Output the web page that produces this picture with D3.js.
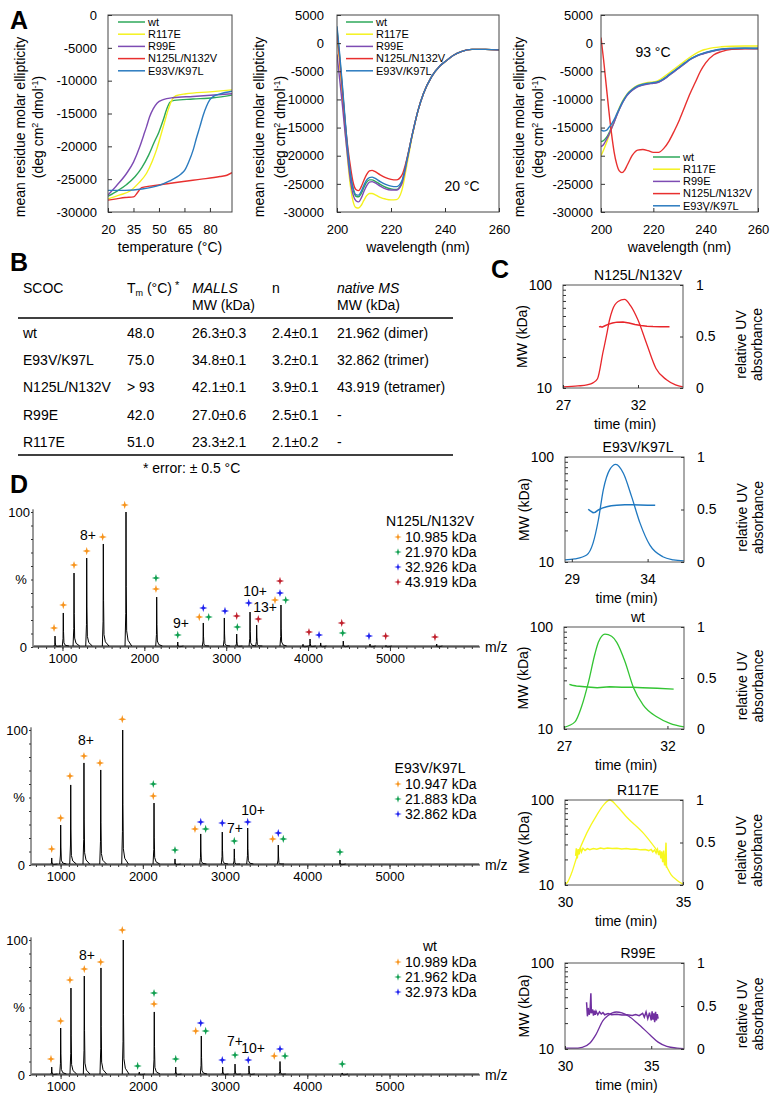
<!DOCTYPE html>
<html><head><meta charset="utf-8">
<script src="https://cdn.jsdelivr.net/npm/d3@7"></script>
<style>
body{margin:0;background:#fff;}
svg{display:block;font-family:"Liberation Sans",Arial,Helvetica,sans-serif;}
</style></head><body>
<svg id="fig" width="777" height="1103"></svg>
<script>
// ---------------- DATA ----------------
// Panel A
const variantNames = ["wt","R117E","R99E","N125L/N132V","E93V/K97L"];
const variantColors = ["#2ea85a","#f4f21e","#7d4bb3","#e8302f","#2b7bbf"];

const meltWt = [[20,-27600],[26,-26700],[31,-25800],[36,-24600],[40,-23200],[44,-21300],[47,-19500],[50,-17800],[52.5,-16000],[54.5,-14400],[56.5,-13300],[59,-13000],[70,-12800],[82,-12600],[93,-12200]];
const meltR117E = [[20,-28000],[27,-27400],[33,-26800],[38,-25600],[42.7,-24100],[46,-22300],[48.6,-20500],[51,-18400],[53,-16600],[55.4,-14450],[57.5,-13000],[60,-12300],[66,-12000],[80,-11700],[93,-11400]];
const meltR99E = [[20,-27400],[25,-26000],[31,-24100],[35,-22400],[38.8,-20000],[41,-18300],[42.7,-17000],[44.5,-15500],[46.6,-14300],[49,-13400],[52.5,-12900],[58,-12600],[70,-12400],[93,-12000]];
const meltN125L = [[20,-28200],[25,-28000],[30,-27800],[35,-27700],[37.5,-27000],[39.8,-26300],[46.6,-26000],[55,-25700],[64.3,-25350],[75,-25000],[85.9,-24600],[90,-24400],[93,-24000]];
const meltE93V = [[20,-26700],[30,-26700],[40,-26500],[50.6,-25900],[56,-25300],[60.4,-24700],[63,-24200],[65.3,-23600],[67.5,-22400],[70.2,-20500],[72,-18800],[74.1,-17000],[76,-15300],[78,-13900],[80,-12900],[82,-12400],[86,-12000],[93,-11600]];

const lambda20 = [200,201,202,203,204,205,206,207,208,209,210,211,212,213,214,216,218,220,222,224,226,228,230,232,235,238,240,243,246,250,255,260];
const cd20Wt    = [2500,-2500,-8000,-14000,-19500,-23500,-26000,-27200,-27300,-26700,-25600,-24700,-24300,-24300,-24500,-25100,-25600,-25900,-26000,-24800,-20500,-16000,-12000,-9000,-6000,-4100,-3300,-2200,-1500,-1100,-1100,-1200];
const cd20R117E = [1500,-3500,-9500,-15500,-21000,-25500,-28200,-29200,-29300,-28800,-27900,-27100,-26700,-26700,-26900,-27400,-27700,-27850,-27800,-26200,-21300,-16200,-12000,-9000,-6000,-4100,-3300,-2200,-1500,-1100,-1100,-1200];
const cd20R99E  = [-2000,-6500,-11000,-16000,-20500,-24500,-27000,-28000,-28200,-27500,-26300,-25300,-24700,-24600,-24800,-25400,-25900,-26100,-26100,-25000,-20700,-16000,-12000,-9000,-6000,-4100,-3300,-2200,-1500,-1100,-1100,-1200];
const cd20N125L = [2000,-3000,-8500,-14000,-18500,-22000,-24800,-26000,-26200,-25500,-24300,-23300,-22700,-22600,-22800,-23400,-23900,-24200,-24300,-23500,-20300,-16000,-12000,-9000,-6000,-4100,-3300,-2200,-1500,-1100,-1100,-1200];
const cd20E93V  = [3000,-2000,-7500,-13500,-19000,-23200,-25800,-26900,-27000,-26300,-25200,-24300,-23900,-23800,-24000,-24600,-25100,-25400,-25500,-24500,-20500,-16000,-12000,-9000,-6000,-4100,-3300,-2200,-1500,-1100,-1100,-1200];

const lambda93 = [200,201,202,203,204,205,206,207,208,209,210,212,214,216,218,220,222,224,226,228,230,232,234,236,238,240,243,246,250,255,260];
const cd93Wt    = [-17500,-17300,-16800,-16000,-15000,-14000,-12800,-11700,-10700,-9900,-9200,-8300,-7700,-7400,-7200,-7100,-6900,-6400,-5700,-5000,-4300,-3600,-2900,-2400,-2000,-1700,-1350,-1100,-950,-900,-900];
const cd93R117E = [-20000,-19000,-17800,-16500,-15200,-14000,-12700,-11500,-10500,-9700,-9000,-8100,-7500,-7200,-7000,-6900,-6600,-6000,-5300,-4600,-3900,-3200,-2500,-1900,-1400,-1100,-800,-650,-550,-500,-500];
const cd93R99E  = [-18400,-18000,-17200,-16300,-15200,-14100,-12900,-11800,-10800,-9950,-9250,-8350,-7750,-7450,-7250,-7150,-6950,-6450,-5750,-5050,-4350,-3650,-2950,-2450,-2050,-1750,-1400,-1150,-1000,-950,-950];
const cd93N125L = [1000,-3000,-7500,-12000,-16000,-19300,-21500,-22700,-23000,-22600,-21700,-19900,-19000,-18900,-19100,-19400,-19400,-18700,-17400,-15600,-13600,-11300,-9000,-7000,-5000,-3500,-2100,-1500,-1100,-1000,-1000];
const cd93E93V  = [-15400,-15600,-15500,-15000,-14400,-13600,-12600,-11600,-10600,-9800,-9100,-8200,-7600,-7300,-7100,-7000,-6800,-6300,-5600,-4900,-4200,-3500,-2850,-2350,-1950,-1650,-1300,-1050,-950,-900,-950];

const meltTicks = [20,35,50,65,80];
const lambdaTicks = [200,220,240,260];
const ellipTicksA = [-30000,-25000,-20000,-15000,-10000,-5000,0];
const ellipTicksB = [-30000,-25000,-20000,-15000,-10000,-5000,0,5000];

// Panel B
const tableRows = [
  ["wt","48.0","26.3\u00b10.3","2.4\u00b10.1","21.962 (dimer)"],
  ["E93V/K97L","75.0","34.8\u00b10.1","3.2\u00b10.1","32.862 (trimer)"],
  ["N125L/N132V","> 93","42.1\u00b10.1","3.9\u00b10.1","43.919 (tetramer)"],
  ["R99E","42.0","27.0\u00b10.6","2.5\u00b10.1","-"],
  ["R117E","51.0","23.3\u00b12.1","2.1\u00b10.2","-"]
];

// Panel C (time min, relative UV) and (time min, MW kDa)
const uvN125L = [[27,0.01],[28,0.02],[28.6,0.03],[29,0.05],[29.3,0.09],[29.67,0.35],[29.9,0.51],[30.1,0.66],[30.3,0.76],[30.67,0.84],[31.1,0.86],[31.5,0.8],[32.0,0.66],[32.6,0.42],[33.2,0.19],[33.9,0.08],[34.5,0.03],[35,0.01]];
const mwN125L = [[29.4,39.2],[29.5,39.6],[29.6,39.0],[29.8,40.2],[30,41.5],[30.3,42.8],[30.6,43.6],[31,43.8],[31.4,42.8],[31.8,41.4],[32.2,40.4],[32.6,39.8],[33,39.5],[33.5,39.3],[34.1,39.4]];
const uvE93V = [[28.55,0.02],[29.2,0.03],[29.98,0.067],[30.4,0.18],[30.75,0.40],[31.08,0.69],[31.5,0.88],[31.9,0.93],[32.4,0.845],[32.95,0.62],[33.5,0.37],[34.15,0.16],[35.0,0.05],[35.7,0.02],[36.4,0.01]];
const mwE93V = [[30.08,31.8],[30.2,30.8],[30.4,29.5],[30.55,29.8],[30.75,31.3],[31.0,32.6],[31.3,33.6],[31.6,34.3],[31.96,34.8],[32.5,35.0],[33,35],[33.5,34.9],[34,34.8],[34.5,34.7]];
const uvWt = [[27,0.016],[27.53,0.07],[27.85,0.22],[28.17,0.45],[28.5,0.74],[28.66,0.85],[28.98,0.93],[29.3,0.91],[29.55,0.85],[29.95,0.66],[30.35,0.41],[30.83,0.235],[31.48,0.12],[32.12,0.056],[32.8,0.02]];
const mwWt = [[27.26,27.4],[27.4,26.8],[27.6,26.4],[28,26],[28.6,25.4],[29.2,26],[29.8,25.7],[30.3,25.6],[30.8,25.4],[31.5,25.1],[32.3,24.6]];
const uvR117E = [[30,0.01],[30.07,0.02],[30.28,0.14],[30.5,0.33],[30.92,0.61],[31.34,0.82],[31.63,0.94],[31.9,1.0],[32.2,0.93],[32.61,0.8],[33.32,0.61],[33.89,0.41],[34.1,0.33],[34.3,0.22],[34.5,0.12],[34.73,0.06],[35,0.01]];
const mwR117E = [[30.45,22],[30.48,27],[30.52,20.5],[30.56,26.5],[30.6,23],[30.65,27.5],[30.7,24.5],[30.76,27],[30.85,25.5],[30.95,26.8],[31.05,26],[31.2,26.8],[31.35,26.4],[31.5,27.2],[31.65,26.7],[31.8,27.2],[32.0,26.9],[32.2,27.1],[32.4,26.6],[32.6,26.8],[32.8,26.3],[33.0,26.5],[33.2,25.9],[33.4,26.1],[33.55,25.4],[33.65,26.2],[33.72,24.6],[33.8,25.8],[33.86,23.8],[33.92,26.3],[33.97,22.5],[34.02,25.5],[34.06,20.5],[34.1,24.8],[34.14,18.5],[34.18,25.5],[34.22,17],[34.26,23.5],[34.28,31.5],[34.3,16]];
const uvR99E = [[30,0.01],[30.5,0.01],[31,0.02],[31.45,0.07],[31.8,0.17],[32.2,0.33],[32.5,0.39],[32.97,0.43],[33.3,0.42],[33.7,0.38],[34.2,0.30],[34.95,0.16],[35.4,0.08],[35.9,0.03],[36.5,0.01],[36.9,0.005]];
const mwR99E = [[31.25,35],[31.3,24],[31.35,30],[31.4,25],[31.45,27],[31.5,44.5],[31.53,26],[31.6,29],[31.65,24.5],[31.7,28],[31.75,25],[31.8,27.5],[31.9,25],[32.0,27],[32.1,25.5],[32.2,26.5],[32.3,25],[32.5,25.8],[32.7,25],[33.0,25.3],[33.3,24.8],[33.6,25],[33.9,24.6],[34.1,25.2],[34.3,24.4],[34.5,26],[34.6,23.5],[34.7,27],[34.8,22.5],[34.9,26.5],[35.0,21.5],[35.05,27.5],[35.1,22],[35.15,26],[35.2,20.5],[35.25,27],[35.3,21.5],[35.35,25.5],[35.4,22.5]];

// Panel D (m/z, % intensity); markers [m/z, %, oligomer index]
const oligoColors = ["#f7941d","#109f50","#1f22ee","#c0202d"];
const peaksN125L = [[909,8.1],[1010,25.2],[1141,54.8],[1296,65.9],[1499,76.3],[1776,100],[2151,37],[2408,3.7],[2720,17.8],[2977,21.5],[3128,9.6],[3291,25.9],[3372,16.3],[3669,31.1],[3938,2],[4024,5.9],[4154,3],[4430,4.4],[4756,2.2],[4952,1.1],[5571,2.2]];
const markersN125L = [[897,14.1,0],[1010,31.1,0],[1141,60.7,0],[1296,71.1,0],[1491,81.5,0],[1760,105.2,0],[2142,43,0],[2142,51.1,1],[2408,8.9,1],[2671,22.2,0],[2720,28.9,2],[2786,22.2,1],[2985,26.7,2],[3136,14.8,1],[3128,23,3],[3275,32.6,2],[3392,20.7,3],[3596,34.8,0],[3657,40,2],[3657,48.9,3],[3727,34.8,1],[4011,11.1,3],[4134,8.9,2],[4423,10.4,1],[4411,17.8,3],[4744,8.1,2],[4948,8.1,3],[5550,7.4,3]];
const labelsN125L = [[1312,83,"8+"],[2448,17.8,"9+"],[3352,41.5,"10+"],[3474,29.6,"13+"]];
const massesN125L = ["10.985 kDa","21.970 kDa","32.926 kDa","43.919 kDa"];

const peaksE93V = [[892,5.2],[1001,29.6],[1123,59.3],[1284,75.6],[1488,70.4],[1755,100],[2136,45.9],[2391,4.5],[2704,23],[2966,24.4],[3112,11.9],[3275,27.4],[3647,14.8],[4397,3.7]];
const markersE93V = [[892,11.9,0],[1001,34.8,0],[1114,65.9,0],[1284,80.7,0],[1479,75.6,0],[1750,108,0],[2127,51.1,0],[2127,60,1],[2391,11.1,1],[2634,26.7,0],[2704,31.9,2],[2764,26.7,1],[2966,31.1,2],[3112,17.8,1],[3275,31.9,2],[3579,19.3,0],[3647,23.7,2],[3708,19.3,1],[4397,9.6,1]];
const labelsE93V = [[1309,92.6,"8+"],[3121,27.4,"7+"],[3340,40.7,"10+"]];
const massesE93V = ["10.947 kDa","21.883 kDa","32.862 kDa"];

const peaksWt = [[892,5.9],[1001,34.8],[1126,64.4],[1288,73.3],[1491,79.3],[1762,100],[1957,2.2],[2139,46.7],[2400,5.9],[2711,28.9],[2971,5.9],[3121,8.1],[3291,6.7],[3668,10],[4425,1.5]];
const markersWt = [[883,11.9,0],[1001,40,0],[1114,70.4,0],[1288,78.5,0],[1488,83.7,0],[1750,107.4,0],[2136,52.6,0],[2136,60.7,1],[1937,6.7,1],[2400,11.9,1],[2643,32.6,0],[2704,38.5,2],[2764,32.6,1],[2966,11.1,2],[3121,14.8,1],[3282,11.1,2],[3598,14.1,0],[3668,19.3,2],[3729,14.1,1],[4425,8.1,1]];
const labelsWt = [[1321,88.9,"8+"],[3121,25.4,"7+"],[3340,19.8,"10+"]];
const massesWt = ["10.989 kDa","21.962 kDa","32.973 kDa"];
const mzTicks = [1000,2000,3000,4000,5000];

// ---------------- DRAW ----------------
const FONT = '"Liberation Sans", Arial, Helvetica, sans-serif';
const svg = d3.select("#fig");
svg.append("rect").attr("width",777).attr("height",1103).attr("fill","#fff");

function styleAxis(g, size){
  g.attr("font-family", FONT).attr("font-size", size);
  g.select(".domain").remove();
  g.selectAll(".tick line").attr("stroke","#333");
  g.selectAll(".tick text").attr("fill","#000");
}

// panel letters
[["A",10,29],["B",10,271],["C",491,278],["D",10,493]].forEach(([t,x,y])=>{
  svg.append("text").attr("x",x).attr("y",y).attr("font-size",25).attr("font-weight","bold").text(t);
});

// ---- Panel A ----
function ylabelA(x1, x2, cy){
  svg.append("text").attr("transform",`translate(${x1},${cy}) rotate(-90)`).attr("text-anchor","middle").attr("font-size",14).text("mean residue molar ellipticity");
  const t = svg.append("text").attr("transform",`translate(${x2},${cy}) rotate(-90)`).attr("text-anchor","middle").attr("font-size",14);
  t.append("tspan").text("(deg cm");
  t.append("tspan").attr("font-size",9).attr("dy",-5).text("2");
  t.append("tspan").attr("dy",5).text(" dmol");
  t.append("tspan").attr("font-size",9).attr("dy",-5).text("-1");
  t.append("tspan").attr("dy",5).text(")");
}

function cdChart(cfg){
  const x = d3.scaleLinear().domain(cfg.xDomain).range([cfg.left,cfg.right]);
  const y = d3.scaleLinear().domain(cfg.yDomain).range([cfg.bottom,cfg.top]);
  const g = svg.append("g");
  g.append("defs").append("clipPath").attr("id",cfg.id).append("rect")
    .attr("x",cfg.left).attr("y",cfg.top).attr("width",cfg.right-cfg.left).attr("height",cfg.bottom-cfg.top);
  const line = d3.line().x(d=>x(d[0])).y(d=>y(d[1])).curve(d3.curveMonotoneX);
  const lg = g.append("g").attr("clip-path",`url(#${cfg.id})`);
  cfg.series.forEach((s,i)=>{
    lg.append("path").attr("d",line(s)).attr("fill","none").attr("stroke",variantColors[i]).attr("stroke-width",1.4);
  });
  g.append("rect").attr("x",cfg.left).attr("y",cfg.top).attr("width",cfg.right-cfg.left).attr("height",cfg.bottom-cfg.top)
    .attr("fill","none").attr("stroke","#444").attr("stroke-width",1);
  const ya = g.append("g").attr("transform",`translate(${cfg.left},0)`)
    .call(d3.axisLeft(y).tickValues(cfg.yTicks).tickSize(-4).tickPadding(cfg.yPad).tickFormat(d=>String(d)));
  styleAxis(ya,13);
  const xa = g.append("g").attr("transform",`translate(0,${cfg.bottom})`)
    .call(d3.axisBottom(x).tickValues(cfg.xTicks).tickSize(-4).tickPadding(13).tickFormat(d=>String(d)));
  styleAxis(xa,13);
  g.append("text").attr("x",(cfg.left+cfg.right)/2).attr("y",252).attr("text-anchor","middle").attr("font-size",14).text(cfg.xLabel);
  ylabelA(cfg.yLab[0], cfg.yLab[1], 127);
  // legend
  variantNames.forEach((n,i)=>{
    const ly = cfg.legend.y0 + i*12.2;
    g.append("line").attr("x1",cfg.legend.x).attr("x2",cfg.legend.x+27).attr("y1",ly).attr("y2",ly)
      .attr("stroke",variantColors[i]).attr("stroke-width",1.5);
    g.append("text").attr("x",cfg.legend.x+30).attr("y",ly).attr("dy","0.35em").attr("font-size",11).text(n);
  });
  if (cfg.note) g.append("text").attr("x",cfg.note[0]).attr("y",cfg.note[1]).attr("text-anchor","middle").attr("font-size",14).text(cfg.note[2]);
}

cdChart({id:"cA1",left:108,right:232,top:15,bottom:212,xDomain:[20,93],yDomain:[-30000,0],xTicks:meltTicks,yTicks:ellipTicksA,yPad:11,
  xLabel:"temperature (\u00b0C)",yLab:[25,43],series:[meltWt,meltR117E,meltR99E,meltN125L,meltE93V],
  legend:{x:118,y0:22}});
const zip = (xs,ys)=>xs.map((v,i)=>[v,ys[i]]);
cdChart({id:"cA2",left:337,right:499,top:15,bottom:212,xDomain:[200,260],yDomain:[-30000,5000],xTicks:lambdaTicks,yTicks:ellipTicksB,yPad:13,
  xLabel:"wavelength (nm)",yLab:[264,285],
  series:[zip(lambda20,cd20Wt),zip(lambda20,cd20R117E),zip(lambda20,cd20R99E),zip(lambda20,cd20N125L),zip(lambda20,cd20E93V)],
  legend:{x:346,y0:22},note:[462,191,"20 \u00b0C"]});
cdChart({id:"cA3",left:601,right:758,top:15,bottom:212,xDomain:[200,260],yDomain:[-30000,5000],xTicks:lambdaTicks,yTicks:ellipTicksB,yPad:8,
  xLabel:"wavelength (nm)",yLab:[524,543],
  series:[zip(lambda93,cd93Wt),zip(lambda93,cd93R117E),zip(lambda93,cd93R99E),zip(lambda93,cd93N125L),zip(lambda93,cd93E93V)],
  legend:{x:653,y0:157},note:[653,57,"93 \u00b0C"]});

// ---- Panel B ----
(function(){
  const cols = [23,127,192,272,337];
  const g = svg.append("g").attr("font-size",14);
  g.append("text").attr("x",cols[0]).attr("y",293).text("SCOC");
  const tm = g.append("text").attr("x",cols[1]).attr("y",293);
  tm.append("tspan").text("T");
  tm.append("tspan").attr("font-size",9).attr("dy",3).text("m");
  tm.append("tspan").attr("dy",-3).text(" (\u00b0C)");
  tm.append("tspan").attr("font-size",11).attr("dy",-4).text(" *");
  g.append("text").attr("x",cols[2]).attr("y",293).attr("font-style","italic").text("MALLS");
  g.append("text").attr("x",cols[2]).attr("y",310).text("MW (kDa)");
  g.append("text").attr("x",cols[3]).attr("y",293).text("n");
  g.append("text").attr("x",cols[4]).attr("y",293).attr("font-style","italic").text("native MS");
  g.append("text").attr("x",cols[4]).attr("y",310).text("MW (kDa)");
  g.append("line").attr("x1",18).attr("x2",453).attr("y1",318).attr("y2",318).attr("stroke","#000").attr("stroke-width",1.5);
  const rowY = [338,365,392,420,447];
  tableRows.forEach((r,i)=>{
    r.forEach((c,j)=>g.append("text").attr("x",cols[j]).attr("y",rowY[i]).text(c));
  });
  g.append("line").attr("x1",18).attr("x2",453).attr("y1",455).attr("y2",455).attr("stroke","#000").attr("stroke-width",1.5);
  g.append("text").attr("x",143).attr("y",473).text("* error: \u00b1 0.5 \u00b0C");
})();

// ---- Panel C ----
function secChart(cfg){
  const x = d3.scaleLinear().domain(cfg.xDomain).range([cfg.left,cfg.right]);
  const yMW = d3.scaleLog().domain([10,100]).range([cfg.bottom,cfg.top]);
  const yUV = d3.scaleLinear().domain([0,1]).range([cfg.bottom,cfg.top]);
  const g = svg.append("g");
  g.append("path").attr("d",d3.line().x(d=>x(d[0])).y(d=>yUV(d[1])).curve(d3.curveMonotoneX)(cfg.uv))
    .attr("fill","none").attr("stroke",cfg.color).attr("stroke-width",1.3);
  g.append("path").attr("d",d3.line().x(d=>x(d[0])).y(d=>yMW(d[1]))(cfg.mw))
    .attr("fill","none").attr("stroke",cfg.color).attr("stroke-width",1.5);
  g.append("rect").attr("x",cfg.left).attr("y",cfg.top).attr("width",cfg.right-cfg.left).attr("height",cfg.bottom-cfg.top)
    .attr("fill","none").attr("stroke","#555").attr("stroke-width",1);
  const la = g.append("g").attr("transform",`translate(${cfg.left},0)`)
    .call(d3.axisLeft(yMW).tickValues([10,20,30,40,50,60,70,80,90,100]).tickSize(-3).tickPadding(11)
      .tickFormat(d=>(d===10||d===100)?String(d):""));
  styleAxis(la,14);
  const ra = g.append("g").attr("transform",`translate(${cfg.right},0)`)
    .call(d3.axisRight(yUV).tickValues([0,0.5,1]).tickSize(-3).tickPadding(13).tickFormat(d=>String(d)));
  styleAxis(ra,14);
  const ba = g.append("g").attr("transform",`translate(0,${cfg.bottom})`)
    .call(d3.axisBottom(x).tickValues(cfg.xTicks).tickSize(-3).tickPadding(12).tickFormat(d=>String(d)));
  styleAxis(ba,14);
  const cy = (cfg.top+cfg.bottom)/2;
  g.append("text").attr("x",638).attr("y",cfg.top-5).attr("text-anchor","middle").attr("font-size",14).text(cfg.name);
  g.append("text").attr("x",(cfg.left+cfg.right)/2+2).attr("y",cfg.bottom+41).attr("text-anchor","middle").attr("font-size",14).text("time (min)");
  g.append("text").attr("transform",`translate(${cfg.left-36},${cy}) rotate(-90)`).attr("text-anchor","middle").attr("font-size",14).text("MW (kDa)");
  g.append("text").attr("transform",`translate(${cfg.right+63},${cy+8}) rotate(-90)`).attr("text-anchor","middle").attr("font-size",14).text(cfg.uvLabel);
  g.append("text").attr("transform",`translate(${cfg.right+79},${cy+8}) rotate(-90)`).attr("text-anchor","middle").attr("font-size",14).text("absorbance");
}
secChart({name:"N125L/N132V",color:"#e8262b",left:563,right:683,top:285,bottom:388,xDomain:[27,35],xTicks:[27,32],uv:uvN125L,mw:mwN125L,uvLabel:"relative UV"});
secChart({name:"E93V/K97L",color:"#1f78c0",left:565,right:684,top:457,bottom:562,xDomain:[28.55,36.4],xTicks:[29,34],uv:uvE93V,mw:mwE93V,uvLabel:"relative UV"});
secChart({name:"wt",color:"#33c433",left:564,right:684,top:627,bottom:729,xDomain:[27,32.8],xTicks:[27,32],uv:uvWt,mw:mwWt,uvLabel:"relative UV"});
secChart({name:"R117E",color:"#f7f71e",left:565,right:683,top:800,bottom:885,xDomain:[30,35],xTicks:[30,35],uv:uvR117E,mw:mwR117E,uvLabel:"relaitve UV"});
secChart({name:"R99E",color:"#7030a0",left:565,right:684,top:963,bottom:1049,xDomain:[30,36.9],xTicks:[30,35],uv:uvR99E,mw:mwR99E,uvLabel:"relative UV"});

// ---- Panel D ----
const star4 = {draw(ctx,size){
  const r = Math.sqrt(size), ri = r*0.33;
  for(let i=0;i<8;i++){
    const a = i*Math.PI/4 - Math.PI/2, rr = (i%2)? ri : r;
    const px = rr*Math.cos(a), py = rr*Math.sin(a);
    if(i===0) ctx.moveTo(px,py); else ctx.lineTo(px,py);
  }
  ctx.closePath();
}};
function spectrum(cfg){
  const x = d3.scaleLinear().domain([640,6100]).range([cfg.left,480]);
  const y = d3.scaleLinear().domain([0,100]).range([cfg.y0,cfg.y100]);
  const g = svg.append("g");
  const line = d3.line().x(d=>x(d[0])).y(d=>y(d[1]));
  g.append("path").attr("d",line([[650,0.7],[6090,0.7]])).attr("fill","none").attr("stroke","#000").attr("stroke-width",1);
  cfg.peaks.forEach(([m,h])=>{
    const pts = [[m-12,0.7],[m-3,h*0.25],[m,h],[m+3,h*0.45],[m+8,h*0.12],[m+25,h*0.05],[m+70,0.7]];
    g.append("path").attr("d",line(pts)).attr("fill","none").attr("stroke","#000").attr("stroke-width",1);
  });
  g.append("line").attr("x1",cfg.left).attr("x2",480).attr("y1",cfg.y0).attr("y2",cfg.y0).attr("stroke","#333");
  g.append("line").attr("x1",cfg.left).attr("x2",cfg.left).attr("y1",cfg.y0).attr("y2",y(102)).attr("stroke","#333");
  const minor = g.append("g").attr("transform",`translate(0,${cfg.y0})`)
    .call(d3.axisBottom(x).tickValues(d3.range(700,6100,100)).tickSize(2).tickFormat(""));
  styleAxis(minor,13);
  const xa = g.append("g").attr("transform",`translate(0,${cfg.y0})`)
    .call(d3.axisBottom(x).tickValues(mzTicks).tickSize(4).tickPadding(3).tickFormat(d=>String(d)));
  styleAxis(xa,13);
  const ym = g.append("g").attr("transform",`translate(${cfg.left},0)`)
    .call(d3.axisLeft(y).tickValues(d3.range(0,101,10)).tickSize(2).tickFormat(""));
  styleAxis(ym,13);
  g.append("text").attr("x",cfg.left-3).attr("y",y(100)).attr("dy","0.35em").attr("text-anchor","end").attr("font-size",13).text("100");
  g.append("text").attr("x",cfg.left-6).attr("y",y(0)).attr("dy","0.35em").attr("text-anchor","end").attr("font-size",13).text("0");
  g.append("text").attr("x",cfg.left-12).attr("y",y(50)).attr("dy","0.35em").attr("text-anchor","middle").attr("font-size",13).text("%");
  g.append("text").attr("x",485).attr("y",cfg.y0).attr("dy","0.35em").attr("font-size",14).text("m/z");
  g.selectAll(null).data(cfg.markers).enter().append("path")
    .attr("transform",d=>`translate(${x(d[0])},${y(d[1])})`)
    .attr("d",d3.symbol().type(star4).size(17)())
    .attr("fill",d=>oligoColors[d[2]]);
  cfg.labels.forEach(([m,p,t])=>{
    g.append("text").attr("x",x(m)).attr("y",y(p)).attr("dy","0.35em").attr("text-anchor","middle").attr("font-size",14).text(t);
  });
  g.append("text").attr("x",430).attr("y",cfg.legY).attr("dy","0.35em").attr("text-anchor","middle").attr("font-size",14).text(cfg.name);
  cfg.masses.forEach((t,i)=>{
    const ly = cfg.legY + 16 + i*15;
    g.append("path").attr("transform",`translate(398,${ly})`).attr("d",d3.symbol().type(star4).size(14)()).attr("fill",oligoColors[i]);
    g.append("text").attr("x",405).attr("y",ly).attr("dy","0.35em").attr("font-size",14).text(t);
  });
}
spectrum({left:33,y0:647,y100:512,peaks:peaksN125L,markers:markersN125L,labels:labelsN125L,name:"N125L/N132V",masses:massesN125L,legY:521});
spectrum({left:31,y0:865,y100:730,peaks:peaksE93V,markers:markersE93V,labels:labelsE93V,name:"E93V/K97L",masses:massesE93V,legY:768});
spectrum({left:31,y0:1075,y100:940,peaks:peaksWt,markers:markersWt,labels:labelsWt,name:"wt",masses:massesWt,legY:946});
</script>
</body></html>
